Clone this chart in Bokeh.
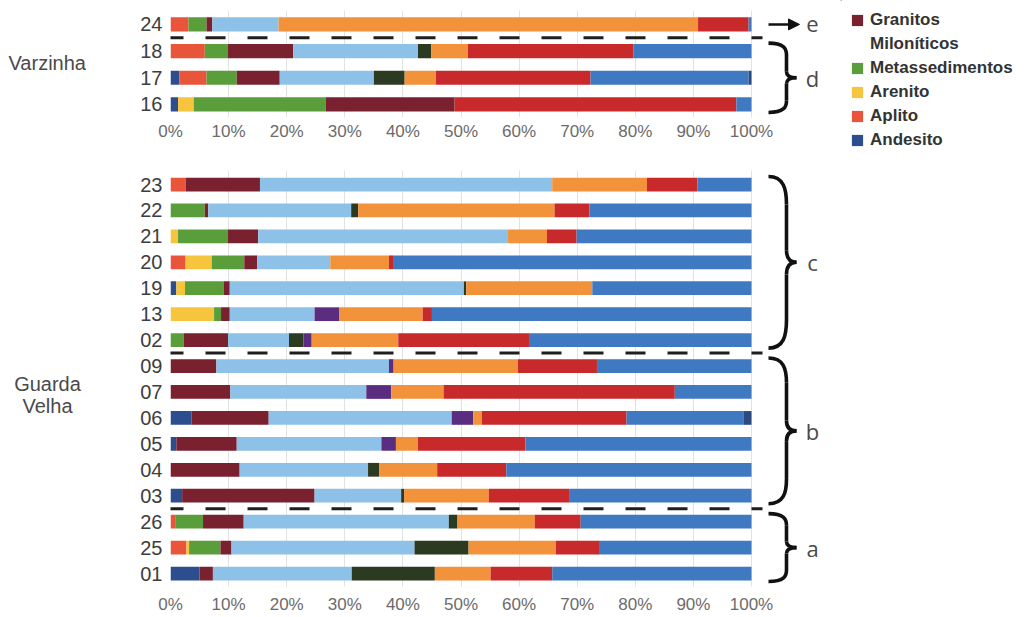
from bokeh.plotting import figure
from bokeh.models import (ColumnDataSource, FixedTicker, PrintfTickFormatter, Legend,
                          LegendItem, Arrow, NormalHead, Range1d)
from bokeh.layouts import column, row
from bokeh.embed import file_html
from bokeh.resources import INLINE
from bokeh.core.properties import value

# ---------------- data ----------------
samples = ["24", "18", "17", "16",
           "23", "22", "21", "20", "19", "13", "02",
           "09", "07", "06", "05", "04", "03",
           "26", "25", "01"]

top_samples = ["24", "18", "17", "16"]
bottom_samples = ["23", "22", "21", "20", "19", "13", "02",
                  "09", "07", "06", "05", "04", "03",
                  "26", "25", "01"]

groups_top = [("e", ["24"]), ("d", ["18", "17", "16"])]
groups_bottom = [("c", ["23", "22", "21", "20", "19", "13", "02"]),
                 ("b", ["09", "07", "06", "05", "04", "03"]),
                 ("a", ["26", "25", "01"])]

categories = ["Andesito", "Aplito", "Arenito", "Metassedimentos",
              "Granitos Miloníticos", "Granitos",
              "cat7", "cat8", "cat9", "cat10", "cat11", "cat12"]
colors = ["#2c4d8e", "#e9553b", "#f7c43e", "#5a9d3b",
          "#7a2130", "#8ec1e7",
          "#2d3a22", "#5a2d80", "#f2923a", "#c8292b", "#3e79c2", "#2b4a80"]

andesito = [0, 0, 1.5, 1.3, 0, 0, 0, 0, 1.0, 0, 0, 0, 0, 3.6, 1.0, 0, 2.0, 0, 0, 5.0]
aplito = [3.1, 5.9, 4.7, 0, 2.6, 0, 0, 2.6, 0, 0, 0, 0, 0, 0, 0, 0, 0, 0.8, 2.75, 0]
arenito = [0, 0, 0, 2.7, 0, 0, 1.3, 4.5, 1.5, 7.5, 0, 0, 0, 0, 0, 0, 0, 0, 0.45, 0]
metassedimentos = [3.1, 4.0, 5.2, 22.7, 0, 5.9, 8.6, 5.6, 6.7, 1.2, 2.3, 0, 0, 0, 0, 0, 0, 4.8, 5.4, 0]
granitos_miloniticos = [1.0, 11.2, 7.4, 22.2, 12.8, 0.6, 5.2, 2.2, 1.0, 1.5, 7.6, 7.9, 10.3, 13.3, 10.4, 11.9, 22.8, 7.0, 1.9, 2.3]
granitos = [11.4, 21.5, 16.2, 0, 50.3, 24.6, 43.0, 12.6, 40.3, 14.6, 10.5, 29.7, 23.4, 31.5, 24.9, 22.1, 14.9, 35.3, 31.5, 23.9]
cat7 = [0, 2.3, 5.3, 0, 0, 1.2, 0, 0, 0.4, 0, 2.5, 0, 0, 0, 0, 1.9, 0.5, 1.5, 9.3, 14.3]
cat8 = [0, 0, 0, 0, 0, 0, 0, 0, 0, 4.2, 1.4, 0.8, 4.3, 3.7, 2.5, 0, 0, 0, 0, 0]
cat9 = [72.2, 6.3, 5.4, 0, 16.3, 33.8, 6.7, 10.1, 21.7, 14.4, 14.9, 21.4, 9.0, 1.5, 3.8, 10.0, 14.6, 13.3, 15.0, 9.6]
cat10 = [8.7, 28.5, 26.6, 48.5, 8.7, 6.0, 5.1, 0.7, 0, 1.6, 22.5, 13.6, 39.8, 24.9, 18.5, 11.9, 13.8, 7.9, 7.6, 10.6]
cat11 = [0.5, 20.3, 27.2, 2.6, 9.3, 27.9, 30.1, 61.7, 27.4, 55.0, 38.3, 26.6, 13.2, 20.1, 38.9, 42.2, 31.4, 29.4, 26.1, 34.3]
cat12 = [0, 0, 0.5, 0, 0, 0, 0, 0, 0, 0, 0, 0, 0, 1.4, 0, 0, 0, 0, 0, 0]

series = [andesito, aplito, arenito, metassedimentos, granitos_miloniticos, granitos,
          cat7, cat8, cat9, cat10, cat11, cat12]

x_ticks = list(range(0, 101, 10))
# legend entries visible in the (cropped) original; second line of a label as own row
legend_rows = [("Granitos", "Granitos Miloníticos"), ("Miloníticos", None),
               ("Metassedimentos", "Metassedimentos"), ("Arenito", "Arenito"),
               ("Aplito", "Aplito"), ("Andesito", "Andesito")]
region_labels = [("Varzinha", 8, 62, "left"), ("Guarda", 47, 383, "center"),
                 ("Velha", 47, 405, "center")]

# ---------------- layout constants (pixels) ----------------
TOTAL_W, TOTAL_H = 1020, 616
LEFT_W = 130            # width of the region-label strip
FRAME_L = 170           # x pixel of 0 %
PX_PCT = 5.81           # pixels per 1 %
PANEL_RIGHT = 840       # right edge of the bar panels (legend strip follows)
H1 = 158
FONT = "Liberation Sans"


def xp(px):
    """pixel column -> percent units of the bar panels"""
    return (px - FRAME_L) / PX_PCT


def brace(p, top, bot, xl, xm, xt, h1, h2):
    mid = (top + bot) / 2.0
    kw = dict(line_color="#111111", line_width=3.6)
    p.bezier(x0=[xl, xm, xl, xm], y0=[top, mid + h2, bot, mid - h2],
             x1=[xm, xt, xm, xt], y1=[top - h1, mid, bot + h1, mid],
             cx0=[xm - (xm - xl) * 0.15, xm, xm - (xm - xl) * 0.15, xm],
             cy0=[top, mid + h2 * 0.35, bot, mid - h2 * 0.35],
             cx1=[xm, xm + (xt - xm) * 0.3, xm, xm + (xt - xm) * 0.3],
             cy1=[top - h1 * 0.45, mid, bot + h1 * 0.45, mid], **kw)
    p.segment(x0=[xm, xm], y0=[top - h1, mid - h2], x1=[xm, xm], y1=[mid + h2, bot + h1], **kw)
    return mid


def make_panel(names, groups, width, height, b_top, b_bottom, y_lo, y_hi, px_per_unit, standoff):
    n = len(names)
    ys = [n - 1 - i for i in range(n)]
    idx = [samples.index(s) for s in names]
    data = {"y": ys}
    for c, vals in zip(categories, series):
        data[c] = [vals[i] for i in idx]
    src = ColumnDataSource(data)

    p = figure(width=width, height=height, output_backend="svg", toolbar_location=None, title=None,
               x_range=Range1d(0, xp(LEFT_W + width)), y_range=Range1d(y_lo, y_hi),
               min_border_left=FRAME_L - LEFT_W, min_border_right=0,
               min_border_top=b_top, min_border_bottom=b_bottom,
               background_fill_color="white", border_fill_color="white")
    p.outline_line_color = None

    tk = FixedTicker(ticks=x_ticks)
    p.xaxis.ticker = tk
    p.xgrid.ticker = tk
    p.xaxis.formatter = PrintfTickFormatter(format="%d%%")
    p.xaxis.axis_line_color = None
    p.xaxis.major_tick_line_color = None
    p.xaxis.minor_tick_line_color = None
    p.xaxis.major_tick_out = 0
    p.xaxis.major_tick_in = 0
    p.xaxis.minor_tick_out = 0
    p.xaxis.major_label_standoff = standoff
    p.xaxis.major_label_text_font = FONT
    p.xaxis.major_label_text_font_size = "17px"
    p.xaxis.major_label_text_color = "#6b6b6b"

    p.yaxis.ticker = FixedTicker(ticks=ys)
    p.yaxis.major_label_overrides = {y: s for y, s in zip(ys, names)}
    p.yaxis.axis_line_color = None
    p.yaxis.major_tick_line_color = None
    p.yaxis.minor_tick_line_color = None
    p.yaxis.major_tick_out = 0
    p.yaxis.major_tick_in = 0
    p.yaxis.minor_tick_out = 0
    p.yaxis.major_label_standoff = 8
    p.yaxis.major_label_text_font = FONT
    p.yaxis.major_label_text_font_size = "20px"
    p.yaxis.major_label_text_color = "#3d3d3d"

    p.xgrid.grid_line_color = "#e2e2e2"
    p.ygrid.grid_line_color = None

    p.hbar_stack(categories, y="y", height=0.53, fill_color=colors, line_color=None, source=src)

    # dashed separators between sample groups
    pos = {s: y for s, y in zip(names, ys)}
    for (_, g1), (_, g2) in zip(groups[:-1], groups[1:]):
        yb = (pos[g1[-1]] + pos[g2[0]]) / 2.0
        p.segment(x0=[xp(163)], y0=[yb], x1=[xp(762)], y1=[yb], line_color="#1e1e1e",
                  line_width=3, line_dash="20 22")

    # braces / arrow and group letters
    xl, xm, xt = xp(768), xp(786), xp(796)
    ext = 8 / px_per_unit
    lx, ly, lt = [], [], []
    for letter, g in groups:
        if len(g) == 1:
            yy = pos[g[0]]
            p.add_layout(Arrow(end=NormalHead(size=11, fill_color="#111111", line_color="#111111"),
                               x_start=xl, y_start=yy, x_end=xp(799), y_end=yy,
                               line_color="#111111", line_width=2.5))
            ly.append(yy)
        else:
            top = pos[g[0]] + ext
            bot = pos[g[-1]] - ext
            hpx = (top - bot) * px_per_unit
            h1 = min(0.17 * hpx, 28) / px_per_unit
            h2 = max(0.07 * hpx, 6) / px_per_unit
            ly.append(brace(p, top, bot, xl, xm, xt, h1, h2))
        lx.append(xp(812))
        lt.append(letter)
    p.text(x=lx, y=ly, text=lt, text_font=value("Open Sans"), text_font_size="22px",
           text_color="#4a4a4a", text_align="center", text_baseline="middle")
    return p


def blank(width, height, x0, x1, y_top, y_bot):
    p = figure(width=width, height=height, output_backend="svg", toolbar_location=None, title=None,
               x_axis_type=None, y_axis_type=None, x_range=Range1d(x0, x1),
               y_range=Range1d(y_bot, y_top), min_border=0,
               background_fill_color="white", border_fill_color="white")
    p.outline_line_color = None
    p.grid.visible = False
    return p


PW = PANEL_RIGHT - LEFT_W
# top panel: frame y 10..117 px (26.67 px per row)
p1 = make_panel(top_samples, groups_top, PW, H1, 10, 41, -0.49, 3.522, 26.67, 4)
# bottom panel: frame y 170..586 px (25.93 px per row)
p2 = make_panel(bottom_samples, groups_bottom, PW, TOTAL_H - H1, 12, 30,
                -0.50, 15.54, 25.93, 8)

# left strip with the two locality names
pl = blank(LEFT_W, TOTAL_H, 0, LEFT_W, 0, TOTAL_H)
for txt, x, y, al in region_labels:
    pl.text(x=[x], y=[y], text=[txt], text_font=value(FONT), text_font_size="20px",
            text_color="#4a4a4a", text_align=al, text_baseline="middle")

# legend strip on the right; legend keys sit outside the strip's visible range
pg = blank(TOTAL_W - PANEL_RIGHT, TOTAL_H, PANEL_RIGHT, TOTAL_W, 0, TOTAL_H)
items = []
for lab, cat in legend_rows:
    if cat is None:
        r = pg.hbar(y=[-1000], left=[PANEL_RIGHT], right=[PANEL_RIGHT + 1], height=1,
                    fill_alpha=0, line_alpha=0)
    else:
        r = pg.hbar(y=[-1000], left=[PANEL_RIGHT], right=[PANEL_RIGHT + 1], height=1,
                    fill_color=colors[categories.index(cat)], line_color=None)
    items.append(LegendItem(label=lab, renderers=[r]))
legend = Legend(items=items, location="top_left", padding=0, margin=10, spacing=4,
                label_height=20, glyph_height=14, glyph_width=14, label_standoff=6,
                label_text_font=FONT, label_text_font_size="17px",
                label_text_font_style="bold", label_text_color="#333333",
                background_fill_alpha=0, border_line_color=None)
pg.add_layout(legend)

layout = row(pl, column(p1, p2, spacing=0), pg, spacing=0)
open("out.html", "w").write(file_html(layout, INLINE))
